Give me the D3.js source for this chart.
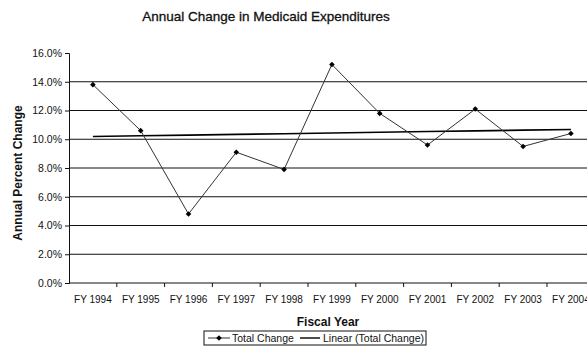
<!DOCTYPE html>
<html>
<head>
<meta charset="utf-8">
<script src="https://cdn.jsdelivr.net/npm/d3@7"></script>
<style>
  html, body { margin: 0; padding: 0; background: #fff; }
  svg { display: block; font-family: "Liberation Sans", Arial, sans-serif; }
</style>
</head>
<body>
<svg id="chart" width="587" height="363"></svg>
<script>
// Fiscal years and the annual percent change in Medicaid spending
const years = ["FY 1994", "FY 1995", "FY 1996", "FY 1997", "FY 1998", "FY 1999",
               "FY 2000", "FY 2001", "FY 2002", "FY 2003", "FY 2004"];
const totalChange = [13.8, 10.6, 4.8, 9.1, 7.9, 15.2, 11.8, 9.6, 12.1, 9.5, 10.4];
const yTicks = [0, 2, 4, 6, 8, 10, 12, 14, 16];
const gridValues = [2, 4, 6, 8, 10, 12, 14];

const svg = d3.select("#chart");
const plot = { left: 69, top: 53, bottom: 283, band: 47.8 };
plot.right = plot.left + plot.band * years.length;

const x = d3.scaleBand().domain(years).range([plot.left, plot.right]).padding(0);
const y = d3.scaleLinear().domain([0, 16]).range([plot.bottom, plot.top]);
const cx = d => x(d) + x.bandwidth() / 2;

// Least-squares trend of the series
const n = totalChange.length;
const mx = d3.mean(d3.range(n));
const my = d3.mean(totalChange);
const slope = d3.sum(totalChange, (v, i) => (i - mx) * (v - my)) /
              d3.sum(d3.range(n), i => (i - mx) * (i - mx));
const trend = totalChange.map((v, i) => my + slope * (i - mx));

const ink = "#111";

// Title
svg.append("text")
  .attr("x", 266).attr("y", 21)
  .attr("text-anchor", "middle")
  .attr("font-size", 13.5)
  .attr("fill", ink).attr("stroke", ink).attr("stroke-width", 0.3)
  .text("Annual Change in Medicaid Expenditures");

// Horizontal gridlines
svg.append("g").selectAll("line").data(gridValues).join("line")
  .attr("x1", plot.left).attr("x2", 587)
  .attr("y1", d => y(d)).attr("y2", d => y(d))
  .attr("stroke", ink).attr("stroke-width", 1);

// Y axis
const yAxis = svg.append("g")
  .attr("transform", `translate(${plot.left},0)`)
  .call(d3.axisLeft(y).tickValues(yTicks).tickSize(4).tickPadding(3)
        .tickFormat(d => d.toFixed(1) + "%"));
yAxis.select(".domain").attr("stroke", ink);
yAxis.selectAll(".tick line").attr("stroke", ink);
yAxis.selectAll("text").attr("font-size", 10.5).attr("fill", ink)
  .attr("font-family", "'Liberation Sans', Arial, sans-serif");

// X axis: labels centred in each band, ticks on the band boundaries
const xAxis = svg.append("g")
  .attr("transform", `translate(0,${plot.bottom})`)
  .call(d3.axisBottom(x).tickSize(0).tickPadding(13));
xAxis.select(".domain").remove();
xAxis.selectAll("text").attr("font-size", 10).attr("fill", ink)
  .attr("font-family", "'Liberation Sans', Arial, sans-serif");

svg.append("line")
  .attr("x1", plot.left).attr("x2", 587)
  .attr("y1", plot.bottom).attr("y2", plot.bottom)
  .attr("stroke", ink);
svg.append("g").selectAll("line").data(years).join("line")
  .attr("x1", d => x(d) + x.bandwidth()).attr("x2", d => x(d) + x.bandwidth())
  .attr("y1", plot.bottom).attr("y2", plot.bottom + 4)
  .attr("stroke", ink);

// Axis titles
svg.append("text")
  .attr("transform", "translate(22,173) rotate(-90)")
  .attr("text-anchor", "middle")
  .attr("font-size", 12).attr("font-weight", "bold").attr("fill", ink)
  .text("Annual Percent Change");
svg.append("text")
  .attr("x", 328).attr("y", 326)
  .attr("text-anchor", "middle")
  .attr("font-size", 12).attr("font-weight", "bold").attr("fill", ink)
  .text("Fiscal Year");

// Trend line
const line = d3.line().x((d, i) => cx(years[i])).y(d => y(d));
svg.append("path").datum(trend)
  .attr("d", line).attr("fill", "none")
  .attr("stroke", "#000").attr("stroke-width", 1.6);

// Data series
svg.append("path").datum(totalChange)
  .attr("d", line).attr("fill", "none")
  .attr("stroke", "#333").attr("stroke-width", 1);
const diamond = d3.symbol().type(d3.symbolDiamond2).size(20);
svg.append("g").selectAll("path").data(totalChange).join("path")
  .attr("d", diamond)
  .attr("transform", (d, i) => `translate(${cx(years[i])},${y(d)})`)
  .attr("fill", "#000");

// Legend
const lg = svg.append("g").attr("transform", "translate(204,331)");
lg.append("rect").attr("width", 222).attr("height", 14)
  .attr("fill", "#fff").attr("stroke", ink);
lg.append("line").attr("x1", 4).attr("x2", 26).attr("y1", 7).attr("y2", 7)
  .attr("stroke", "#333");
lg.append("path").attr("d", diamond).attr("transform", "translate(15,7)").attr("fill", "#000");
lg.append("text").attr("x", 28).attr("y", 11).attr("font-size", 10.5).attr("fill", ink)
  .text("Total Change");
lg.append("line").attr("x1", 96).attr("x2", 116).attr("y1", 7).attr("y2", 7)
  .attr("stroke", "#000").attr("stroke-width", 1.4);
lg.append("text").attr("x", 119).attr("y", 11).attr("font-size", 10.5).attr("fill", ink)
  .text("Linear (Total Change)");
</script>
</body>
</html>
